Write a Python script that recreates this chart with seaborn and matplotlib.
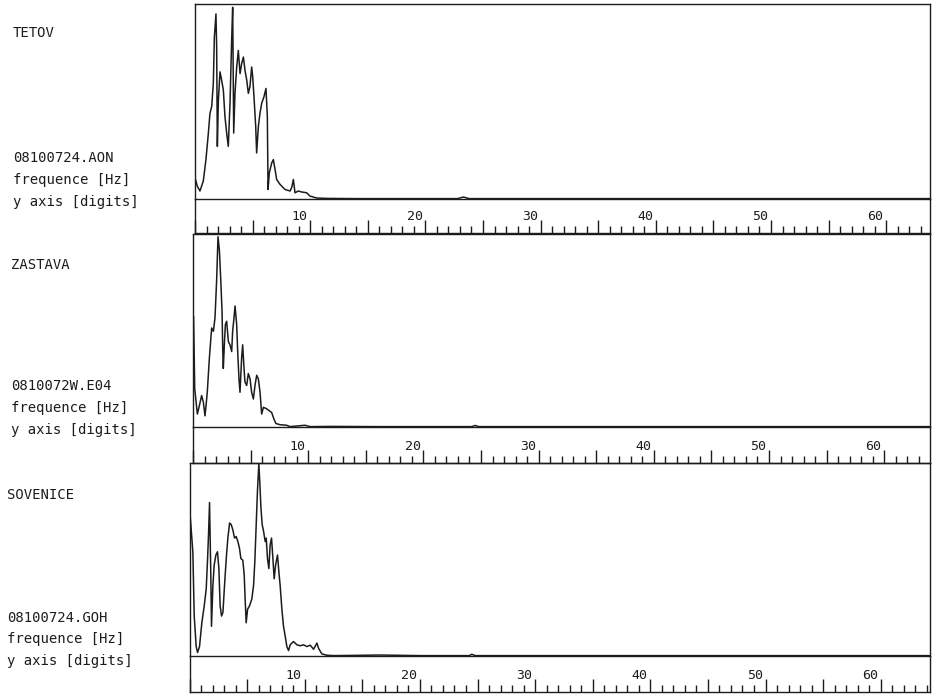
import numpy as np
import pandas as pd
import matplotlib
matplotlib.use("Agg")
import matplotlib.pyplot as plt
from matplotlib.ticker import MultipleLocator
import seaborn as sns

# station / file labels
stations = ["TETOV", "ZASTAVA", "SOVENICE"]
files = ["08100724.AON", "0810072W.E04", "08100724.GOH"]
x_label = "frequence [Hz]"
y_label = "y axis [digits]"
tick_labels = [10, 20, 30, 40, 50, 60]

# spectra (frequency in Hz, amplitude in % of panel max)
f_tetov = [0.00, 0.20, 0.43, 0.72, 0.95, 1.16, 1.30, 1.45, 1.59, 1.68, 1.82, 1.88,
           1.94, 2.03, 2.17, 2.31, 2.46, 2.60, 2.75, 2.89, 3.04, 3.18, 3.27, 3.36,
           3.47, 3.62, 3.76, 3.91, 4.05, 4.20, 4.34, 4.49, 4.63, 4.77, 4.92, 5.01,
           5.12, 5.27, 5.35, 5.50, 5.64, 5.79, 5.99, 6.16, 6.28, 6.34, 6.45, 6.66,
           6.80, 6.95, 7.09, 7.38, 7.81, 8.25, 8.40, 8.54, 8.68, 8.97, 9.26, 9.69,
           9.98, 10.56, 11.5, 14.0, 18.0, 22.8, 23.3, 23.8, 30.0, 40.0, 50.0, 63.8]
a_tetov = [10.9, 6.6, 4.1, 9.2, 20.2, 33.8, 44.0, 47.4, 59.3, 83.0, 94.9, 77.9,
           27.0, 50.8, 65.2, 61.0, 55.9, 42.3, 33.8, 27.0, 49.1, 81.3, 98.3, 33.8,
           54.2, 67.7, 76.2, 64.3, 69.4, 72.8, 66.0, 61.0, 54.2, 57.6, 67.7, 62.6,
           52.5, 37.2, 23.6, 37.2, 44.0, 49.1, 52.5, 56.7, 42.3, 4.9, 13.4, 18.5,
           20.2, 15.1, 10.0, 7.5, 4.9, 4.1, 6.0, 10.0, 3.2, 4.1, 3.6, 3.2,
           1.5, 0.5, 0.3, 0.2, 0.2, 0.2, 1.0, 0.2, 0.2, 0.2, 0.2, 0.2]

f_zastava = [0.05, 0.15, 0.38, 0.55, 0.75, 0.90, 1.04, 1.13, 1.24, 1.42, 1.53, 1.62,
             1.77, 1.91, 2.05, 2.17, 2.29, 2.40, 2.52, 2.58, 2.63, 2.72, 2.81, 2.92,
             3.07, 3.21, 3.36, 3.44, 3.56, 3.65, 3.79, 3.88, 3.99, 4.08, 4.22, 4.31,
             4.43, 4.51, 4.66, 4.80, 4.95, 5.09, 5.24, 5.38, 5.53, 5.67, 5.82, 5.96,
             6.11, 6.34, 6.63, 6.83, 7.03, 7.20, 7.55, 8.13, 8.42, 9.72, 10.16,
             12.0, 16.0, 24.2, 24.5, 24.8, 40.0, 64.0]
a_zastava = [57.4, 19.8, 6.7, 11.0, 16.3, 12.8, 5.8, 11.0, 18.0, 35.6, 44.3, 51.3,
             49.6, 56.6, 75.8, 98.6, 91.6, 77.6, 60.1, 40.8, 30.3, 42.6, 53.1, 54.8,
             44.3, 42.6, 39.1, 49.6, 56.6, 62.7, 53.1, 39.1, 25.0, 18.0, 35.6, 42.6,
             30.3, 23.3, 21.5, 27.7, 25.0, 18.0, 14.5, 21.5, 26.8, 25.0, 18.0, 6.7,
             10.2, 9.6, 8.4, 7.5, 4.0, 1.8, 1.2, 0.9, 0.2, 0.9, 0.2,
             0.3, 0.2, 0.2, 0.8, 0.2, 0.2, 0.2]

f_sovenice = [0.05, 0.29, 0.41, 0.58, 0.70, 0.87, 1.07, 1.28, 1.45, 1.57,
              1.65, 1.74, 1.85, 1.91, 2.03, 2.14, 2.29, 2.43, 2.55, 2.66,
              2.78, 2.90, 3.04, 3.19, 3.33, 3.48, 3.62, 3.76, 3.91, 4.05,
              4.20, 4.34, 4.46, 4.63, 4.75, 4.83, 4.92, 5.04, 5.21, 5.41,
              5.56, 5.67, 5.79, 5.90, 6.02, 6.11, 6.20, 6.31, 6.43, 6.57,
              6.66, 6.77, 6.89, 7.00, 7.12, 7.24, 7.35, 7.47, 7.64, 7.76,
              7.87, 8.02, 8.16, 8.31, 8.45, 8.60, 8.74, 9.03, 9.32, 9.61,
              9.90, 10.19, 10.48, 10.77, 11.06, 11.20, 11.49, 11.92, 12.50,
              14.0, 16.5, 20.0, 24.3, 24.5, 24.8, 40.0, 64.3]
a_sovenice = [73.3, 54.0, 20.7, 4.9, 1.8, 4.9, 17.2, 26.0, 34.7, 50.5,
              62.8, 79.5, 41.8, 15.4, 36.5, 47.0, 52.3, 54.0, 45.3, 26.0,
              20.7, 22.5, 36.5, 50.5, 61.1, 68.9, 68.1, 65.4, 61.1, 61.9,
              59.3, 55.8, 50.5, 49.6, 41.8, 29.5, 17.2, 24.2, 26.0, 29.5,
              36.5, 48.8, 68.1, 85.6, 99.6, 89.1, 76.8, 68.1, 64.6, 59.3,
              61.1, 50.5, 45.3, 57.5, 61.1, 50.5, 40.0, 47.0, 52.3, 43.5,
              36.5, 24.2, 15.4, 10.2, 4.9, 2.8, 5.8, 7.5, 5.8, 5.3,
              5.8, 4.9, 5.6, 3.5, 6.7, 4.0, 1.1, 0.4, 0.2,
              0.3, 0.5, 0.2, 0.2, 0.9, 0.2, 0.2, 0.2]

freqs = [f_tetov, f_zastava, f_sovenice]
amps = [a_tetov, a_zastava, a_sovenice]

# layout in pixels (the scan is slightly skewed, so each panel sits a bit differently)
W, H = 932, 694
RIGHT = 930
PX_PER_HZ = 11.52
panels = [  # left, top, baseline, bottom, text x, text baselines
    (195.0, 4, 199, 233, 13, (37, 162, 184, 206)),
    (193.0, 234, 427, 463, 11, (269, 390, 412, 434)),
    (189.5, 463, 656, 692, 7, (499, 622, 643, 665)),
]
INK = "#1c1c1c"

sns.set_style("white")
plt.rcParams["font.family"] = ["DejaVu Sans Mono"]

fig = plt.figure(figsize=(W / 100, H / 100), dpi=100)


def px_axes(x0, y0, x1, y1):
    return fig.add_axes([x0 / W, 1 - y1 / H, (x1 - x0) / W, (y1 - y0) / H])


for i, (left, top, base, bottom, tx, tys) in enumerate(panels):
    xmax = (RIGHT - left) / PX_PER_HZ

    # frequency scale strip under the box
    sx = px_axes(left, base, RIGHT, bottom)
    sx.set_facecolor("none")
    sx.set_xlim(0, xmax)
    sx.set_ylim(0, 1)
    sx.spines["top"].set_visible(False)
    for s in ["left", "right", "bottom"]:
        sx.spines[s].set_color(INK)
        sx.spines[s].set_linewidth(1.0)
    sx.xaxis.set_major_locator(MultipleLocator(5))
    sx.xaxis.set_minor_locator(MultipleLocator(1))
    sx.tick_params(axis="x", which="major", direction="in", length=9.4, width=1.0,
                   color=INK, bottom=True, labelbottom=False)
    sx.tick_params(axis="x", which="minor", direction="in", length=4.8, width=1.0,
                   color=INK, bottom=True)
    sx.set_yticks([])
    for t in tick_labels:
        sx.text(t - 0.25, 0.37, str(t), ha="right", va="baseline",
                fontsize=9.5, color=INK)

    # spectrum box
    ax = px_axes(left, top, RIGHT, base)
    ax.set_facecolor("none")
    df = pd.DataFrame({"f": freqs[i], "a": amps[i]})
    sns.lineplot(data=df, x="f", y="a", ax=ax, color=INK, lw=1.1,
                 sort=False, estimator=None)
    ax.set_xlim(0, xmax)
    ax.set_ylim(0, 100)
    ax.set_xticks([])
    ax.set_yticks([])
    ax.set_xlabel("")
    ax.set_ylabel("")
    for s in ax.spines.values():
        s.set_color(INK)
        s.set_linewidth(1.0)

    # labels on the left
    for s, y in zip([stations[i], files[i], x_label, y_label], tys):
        fig.text(tx / W, 1 - y / H, s, ha="left", va="baseline",
                 fontsize=10, color=INK)

fig.savefig("out.png", dpi=100, facecolor="white")
